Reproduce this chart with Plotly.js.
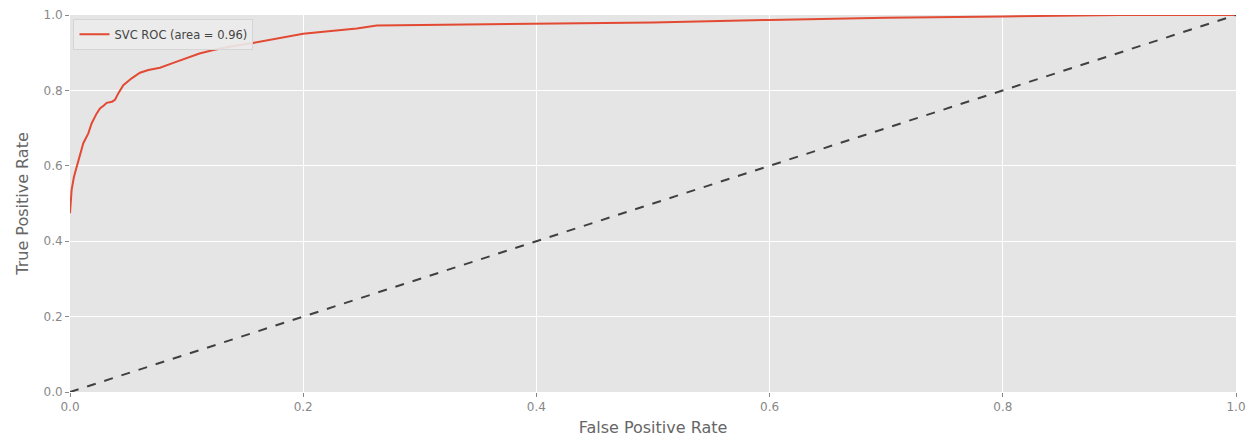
<!DOCTYPE html>
<html>
<head>
<meta charset="utf-8">
<script src="https://cdn.plot.ly/plotly-3.0.1.min.js"></script>
<style>html,body{margin:0;padding:0;background:#fff;}#chart{width:1256px;height:441px;}</style>
</head>
<body>
<div id="chart"></div>
<script>
// ROC curve values
const fpr = [0.0, 0.0014, 0.0034, 0.0057, 0.007, 0.0086, 0.0114, 0.0157, 0.0175, 0.0186, 0.0229, 0.0257, 0.0290, 0.0315, 0.0360, 0.0386, 0.0414, 0.0457, 0.0529, 0.06, 0.0672, 0.0772, 0.0886, 0.1, 0.111, 0.123, 0.14, 0.157, 0.183, 0.2, 0.226, 0.246, 0.263, 0.3, 0.4, 0.5, 0.6, 0.7, 0.8, 0.9, 0.95, 1.0];
const tpr = [0.474, 0.536, 0.571, 0.598, 0.615, 0.633, 0.66, 0.686, 0.700, 0.713, 0.739, 0.752, 0.760, 0.767, 0.770, 0.775, 0.792, 0.814, 0.832, 0.847, 0.854, 0.86, 0.873, 0.885, 0.898, 0.907, 0.918, 0.926, 0.941, 0.950, 0.958, 0.964, 0.972, 0.973, 0.976, 0.980, 0.987, 0.993, 0.996, 1.0, 1.0, 1.0];
const chanceX = [0, 1];
const chanceY = [0, 1];
const seriesName = "SVC ROC (area = 0.96)";
const tickVals = [0, 0.2, 0.4, 0.6, 0.8, 1.0];

const traces = [
  {x: fpr, y: tpr, type: 'scatter', mode: 'lines', name: seriesName,
   line: {color: '#E24A33', width: 2}, cliponaxis: true},
  {x: chanceX, y: chanceY, type: 'scatter', mode: 'lines', showlegend: false,
   line: {color: '#404040', width: 2, dash: 'dash'}, cliponaxis: false}
];

const axisCommon = {
  range: [0, 1], tickvals: tickVals, tickformat: '.1f',
  showgrid: true, gridcolor: '#ffffff', gridwidth: 1,
  zeroline: false, showline: false,
  ticks: 'outside', ticklen: 4, tickwidth: 1, tickcolor: '#888',
  tickfont: {family: 'DejaVu Sans', size: 12, color: '#888'},
  fixedrange: true
};

const layout = {
  width: 1256, height: 441,
  margin: {l: 70, r: 20, t: 15, b: 49},
  paper_bgcolor: '#ffffff', plot_bgcolor: '#E5E5E5',
  xaxis: Object.assign({}, axisCommon, {
    title: {text: 'False Positive Rate', font: {family: 'DejaVu Sans', size: 16, color: '#666'}, standoff: 8}
  }),
  yaxis: Object.assign({}, axisCommon, {
    title: {text: 'True Positive Rate', font: {family: 'DejaVu Sans', size: 16, color: '#666'}, standoff: 10}
  }),
  showlegend: true,
  legend: {x: 0.003, y: 0.99, xanchor: 'left', yanchor: 'top',
    bgcolor: 'rgba(235,235,235,0.9)', bordercolor: '#d5d5d5', borderwidth: 1,
    font: {family: 'DejaVu Sans', size: 11.5, color: '#444'}}
};

Plotly.newPlot('chart', traces, layout, {displayModeBar: false, staticPlot: true});
</script>
</body>
</html>
